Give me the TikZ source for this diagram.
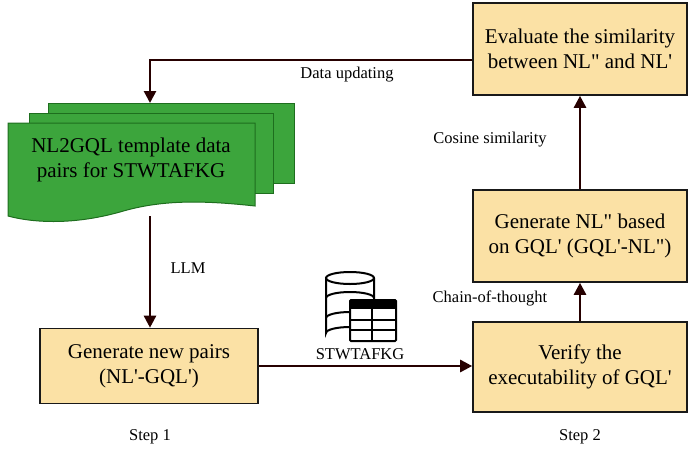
\documentclass[tikz,border=0pt]{standalone}
\usepackage{fontspec}
\setmainfont{Liberation Serif}[Ligatures=TeXOff]
\usetikzlibrary{arrows.meta}
\begin{document}
\begin{tikzpicture}[x=1pt,y=-1pt,
  box/.style={draw=black!90,line width=1.6pt,fill={rgb,255:red,251;green,225;blue,165},minimum width=214pt,align=center,font=\fontsize{21}{25}\selectfont},
  lbl/.style={font=\fontsize{16.5}{19}\selectfont},
  arr/.style={line width=2.6pt,draw=black!85!red,-{Triangle[length=12pt,width=12pt]}},
  doc/.style={draw={rgb,255:red,30;green,110;blue,30},line width=1pt,fill={rgb,255:red,60;green,165;blue,60}}]
\useasboundingbox (0,0) rectangle (700,450);
\node[box,minimum height=92pt] (eval) at (580,49) {Evaluate the similarity\\between NL" and NL'};
\node[box,minimum height=92pt] (gen) at (580,236) {Generate NL" based\\on GQL' (GQL'-NL")};
\node[box,minimum height=90pt] (ver) at (580,367) {Verify the\\executability of GQL'};
\node[box,minimum width=218pt,minimum height=75pt] (np) at (149,366) {Generate new pairs\\(NL'-GQL')};
% document stack
\draw[doc] (48,103) rectangle (294,183);
\draw[doc] (29,113) rectangle (273,193);
\draw[doc] (8,123) -- (255,123) -- (255,206) .. controls (200,200) and (160,200) .. (120,212) .. controls (70,226) and (30,222) .. (8,216) -- cycle;
\node[align=center,font=\fontsize{21}{25}\selectfont,text=black] (docs) at (131,160) {NL2GQL template data\\pairs for STWTAFKG};
\coordinate (dtop) at (150,103);
\coordinate (dbot) at (150,216);
\coordinate (corner) at (150,60);
% arrows
\draw[arr] (eval.west |- 0,60) -- (corner) -- (dtop);
\draw[arr] (dbot) -- (np.north -| dbot);
\draw[arr] (np.east) -- (ver.west |- np.east);
\draw[arr] (ver.north) -- (gen.south);
\draw[arr] (gen.north) -- (eval.south);
\node[lbl] (l1) at (347,75) {Data updating};
\node[lbl] (l2) at (188,268) {LLM};
\node[lbl] (l3) at (490,298) {Chain-of-thought};
\node[lbl] (l4) at (490,140) {Cosine similarity};
\node[lbl] (l5) at (360,354) {STWTAFKG};
\node[lbl] (s1) at (150,437) {Step 1};
\node[lbl] (s2) at (580,437) {Step 2};
% database icon
\begin{scope}[line width=2pt]
\draw[fill=white] (326,278) -- (326,333) arc[start angle=180,end angle=360,x radius=24,y radius=6] -- (374,278);
\draw[fill=white] (350,278) ellipse[x radius=24,y radius=6];
\draw (326,298) arc[start angle=180,end angle=360,x radius=24,y radius=6];
\draw (326,318) arc[start angle=180,end angle=360,x radius=24,y radius=6];
\draw[fill=white,rounded corners=1pt] (350,300) rectangle (396,341);
\fill (350,300) rectangle (396,309);
\draw (350,320) -- (396,320) (350,330)--(396,330) (372,309)--(372,341);
\end{scope}
\end{tikzpicture}
\end{document}
